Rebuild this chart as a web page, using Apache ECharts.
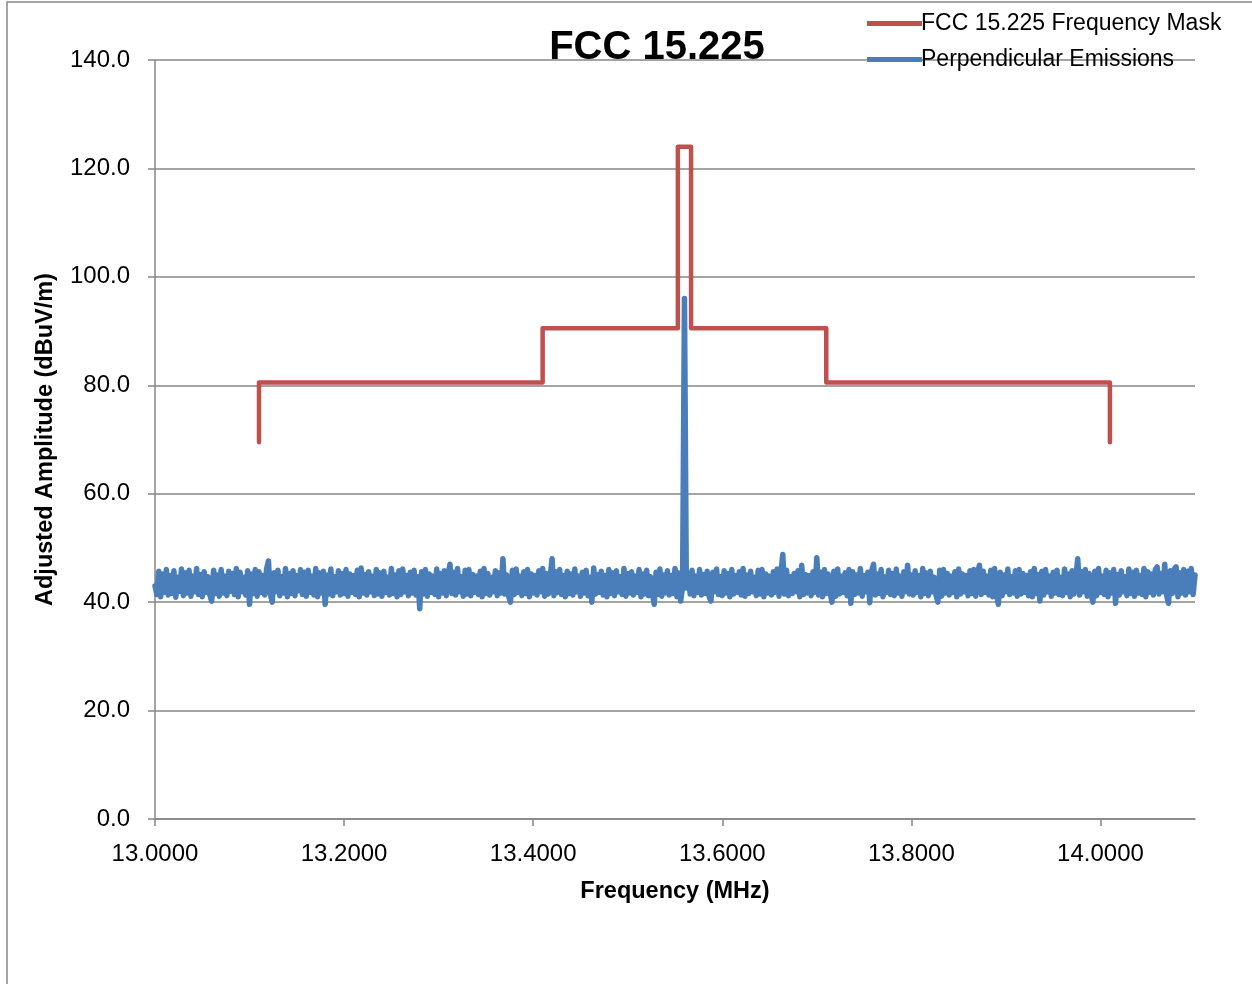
<!DOCTYPE html>
<html>
<head>
<meta charset="utf-8">
<script src="https://cdn.jsdelivr.net/npm/echarts@6/dist/echarts.min.js"></script>
<style>
  html, body { margin: 0; padding: 0; background: #fff; }
  #chart { width: 1252px; height: 984px; }
</style>
</head>
<body>
<div id="chart"></div>
<script>
// mask corner points (MHz, dBuV/m)
var maskFreq = [13.11, 13.11, 13.41, 13.41, 13.553, 13.553, 13.567, 13.567, 13.71, 13.71, 14.01, 14.01]
var maskLevel = [69.5, 80.5, 80.5, 90.5, 90.5, 124, 124, 90.5, 90.5, 80.5, 80.5, 69.5]

// sweep: start 13.000 MHz, 0.002 MHz per point
var sweepStart = 13.0
var sweepStep = 0.002
var emissions = [
  43.0, 41.4, 45.7, 41.0, 45.2, 41.8, 46.0, 41.3, 44.9, 41.6,
  45.8, 40.9, 44.6, 42.0, 46.1, 41.2, 45.4, 41.7, 45.9, 41.1,
  44.8, 41.9, 46.2, 41.4, 45.1, 41.0, 45.6, 41.8, 44.7, 41.3,
  40.2, 45.9, 41.6, 45.0, 41.1, 46.0, 41.7, 44.8, 41.2, 45.7,
  42.0, 45.3, 41.4, 46.2, 41.0, 45.5, 41.9, 44.6, 41.3, 45.8,
  39.6, 45.2, 41.6, 46.0, 41.1, 45.6, 41.8, 44.9, 41.3, 46.1,
  47.6, 41.5, 40.0, 45.4, 41.9, 45.9, 41.2, 44.7, 41.7, 46.2,
  41.0, 45.3, 41.6, 45.8, 41.2, 44.9, 42.1, 46.0, 41.4, 45.5,
  41.1, 45.9, 41.8, 44.8, 41.3, 46.2, 41.0, 45.4, 41.7, 45.7,
  39.6, 45.0, 41.5, 46.1, 41.2, 44.7, 41.9, 45.8, 41.3, 45.3,
  41.6, 46.0, 41.1, 45.2, 41.8, 44.9, 41.4, 45.9, 41.0, 46.3,
  41.7, 45.1, 41.3, 45.6, 41.9, 44.8, 41.2, 46.0, 41.5, 45.4,
  41.1, 45.7, 41.8, 44.6, 41.3, 46.2, 41.6, 45.0, 41.0, 45.8,
  41.4, 46.1, 41.9, 44.9, 41.2, 45.5, 41.7, 45.9, 41.3, 44.7,
  38.8, 45.6, 41.5, 46.0, 41.1, 45.2, 41.8, 44.8, 41.4, 46.1,
  41.0, 45.3, 41.7, 45.8, 41.2, 44.9, 47.0, 41.6, 45.5, 41.3,
  46.2, 41.9, 44.7, 41.1, 45.9, 41.5, 46.0, 41.2, 45.1, 41.8,
  44.8, 41.4, 45.7, 41.0, 46.2, 41.6, 45.3, 41.3, 44.6, 41.9,
  45.8, 41.2, 45.4, 41.7, 48.0, 41.5, 45.0, 41.1, 40.0, 45.9,
  41.4, 46.1, 41.8, 44.8, 41.2, 45.6, 41.6, 46.0, 41.0, 45.2,
  41.7, 44.9, 41.3, 45.8, 41.9, 46.2, 41.1, 45.3, 41.5, 44.7,
  48.0, 41.2, 45.6, 41.8, 46.0, 41.4, 44.9, 41.0, 45.7, 41.6,
  45.2, 41.3, 46.1, 41.9, 44.8, 41.1, 45.5, 41.7, 45.9, 41.2,
  44.6, 40.0, 46.3, 41.5, 45.1, 41.8, 45.7, 41.3, 44.9, 41.0,
  46.0, 41.6, 45.4, 41.2, 45.8, 41.9, 44.7, 41.4, 46.2, 41.1,
  45.3, 41.7, 45.6, 41.3, 44.8, 41.8, 46.0, 41.0, 45.2, 41.5,
  45.9, 41.2, 44.7, 41.9, 39.6, 45.5, 41.4, 46.1, 41.1, 45.0,
  41.7, 45.8, 41.3, 44.9, 41.6, 46.2, 41.0, 45.4, 40.2, 42.8,
  96.0, 42.6, 45.3, 41.5, 45.9, 41.2, 44.8, 41.8, 46.0, 41.3,
  45.1, 41.6, 45.7, 41.1, 40.2, 45.5, 41.9, 46.1, 41.4, 44.7,
  41.2, 45.8, 41.7, 45.3, 41.0, 46.0, 41.5, 44.9, 41.8, 45.6,
  41.3, 46.2, 41.1, 45.0, 41.6, 45.7, 41.9, 44.6, 41.2, 45.9,
  41.5, 46.0, 41.0, 45.2, 41.7, 44.8, 41.3, 45.6, 41.8, 46.1,
  41.1, 45.4, 48.8, 41.5, 45.9, 41.2, 44.7, 41.6, 45.3, 41.9,
  45.8, 41.0, 46.8, 41.4, 45.1, 41.7, 44.9, 41.2, 45.6, 41.8,
  48.2, 41.3, 45.5, 41.0, 46.0, 41.6, 45.2, 41.9, 40.0, 45.7,
  41.1, 46.1, 41.5, 44.8, 41.8, 45.4, 41.2, 46.0, 39.8, 45.6,
  41.4, 45.0, 41.7, 46.2, 41.1, 44.9, 41.9, 45.5, 39.9, 45.8,
  47.0, 41.3, 45.2, 41.6, 46.0, 41.0, 44.7, 41.8, 45.9, 41.4,
  45.3, 41.2, 46.1, 41.7, 44.8, 41.1, 45.6, 41.9, 46.8, 41.5,
  45.0, 41.3, 45.8, 41.8, 44.9, 41.0, 46.2, 41.6, 45.4, 41.2,
  45.7, 41.9, 44.6, 41.4, 40.0, 45.9, 41.1, 46.0, 41.7, 45.3,
  41.3, 44.8, 41.8, 45.6, 41.0, 46.1, 41.5, 45.2, 41.9, 44.9,
  41.2, 45.8, 41.6, 46.0, 41.1, 45.4, 46.8, 41.4, 45.7, 41.8,
  44.8, 41.3, 45.9, 41.0, 46.2, 41.6, 39.6, 45.5, 41.2, 45.0,
  41.9, 46.1, 41.4, 44.7, 41.7, 45.8, 41.1, 46.0, 41.5, 45.3,
  41.8, 44.9, 41.2, 45.6, 41.0, 46.2, 41.6, 45.1, 40.2, 45.7,
  41.3, 46.0, 41.9, 44.8, 41.1, 45.5, 41.7, 45.9, 41.4, 44.6,
  41.2, 46.1, 41.8, 45.2, 41.0, 45.8, 41.5, 44.9, 48.0, 41.3,
  45.6, 41.9, 46.0, 41.1, 45.3, 41.6, 40.0, 45.7, 41.2, 46.2,
  41.8, 44.8, 41.4, 45.9, 41.0, 45.4, 41.7, 46.0, 39.8, 45.1,
  41.3, 45.8, 41.9, 44.7, 41.2, 46.1, 41.6, 45.5, 41.1, 45.9,
  41.7, 44.9, 41.4, 46.2, 41.0, 45.6, 41.8, 45.2, 41.3, 46.0,
  46.5, 41.5, 45.3, 41.9, 47.0, 41.2, 39.8, 45.8, 41.6, 46.1,
  46.5, 41.0, 45.4, 41.7, 46.0, 41.3, 45.7, 41.9, 46.2, 41.4,
  45.0
]

var xTicks = [13.0, 13.2, 13.4, 13.6, 13.8, 14.0]

var font = 'Liberation Sans'
var myChart = echarts.init(document.getElementById('chart'))

var maskData = []
for (var i = 0; i < maskFreq.length; i++) {
  maskData.push([maskFreq[i], maskLevel[i]])
}
var emData = []
for (var j = 0; j < emissions.length; j++) {
  emData.push([+(sweepStart + j * sweepStep).toFixed(4), emissions[j]])
}

var option = {
  animation: false,
  backgroundColor: '#fff',
  title: {
    text: 'FCC 15.225',
    left: 652,
    textAlign: 'center',
    top: 23,
    textStyle: { fontFamily: font, fontSize: 40, fontWeight: 'bold', color: '#000' }
  },
  legend: {
    orient: 'vertical',
    left: 862,
    top: 7,
    itemGap: 13,
    itemWidth: 55,
    itemHeight: 5,
    icon: 'rect',
    textStyle: { fontFamily: font, fontSize: 23, color: '#000', padding: [0, 0, 0, -6] },
    data: ['FCC 15.225 Frequency Mask', 'Perpendicular Emissions']
  },
  grid: { left: 155, right: 57, top: 60, bottom: 165 },
  xAxis: {
    type: 'value',
    min: 13.0,
    max: 14.1,
    interval: 0.2,
    name: 'Frequency (MHz)',
    nameLocation: 'middle',
    nameGap: 61,
    nameTextStyle: { fontFamily: font, fontSize: 23.5, fontWeight: 'bold', color: '#000' },
    axisLine: { lineStyle: { color: '#868686', width: 1.5 } },
    axisTick: { show: true, length: 7, lineStyle: { color: '#868686', width: 1.5 }, customValues: xTicks },
    axisLabel: {
      fontFamily: font, fontSize: 24, color: '#000', margin: 23,
      customValues: xTicks,
      formatter: function (v) { return v.toFixed(4) }
    },
    splitLine: { show: false }
  },
  yAxis: {
    type: 'value',
    min: 0,
    max: 140,
    interval: 20,
    name: 'Adjusted Amplitude (dBuV/m)',
    nameLocation: 'middle',
    nameGap: 97,
    nameTextStyle: { fontFamily: font, fontSize: 23.5, fontWeight: 'bold', color: '#000' },
    axisLine: { show: true, lineStyle: { color: '#868686', width: 1.5 } },
    axisTick: { show: true, length: 7, lineStyle: { color: '#868686', width: 1.5 } },
    axisLabel: {
      fontFamily: font, fontSize: 24, color: '#000', margin: 25,
      formatter: function (v) { return v.toFixed(1) }
    },
    splitLine: { lineStyle: { color: '#868686', width: 1.5 } }
  },
  graphic: [{
    type: 'polyline',
    shape: { points: [[7, 990], [7, 2], [1260, 2]] },
    style: { stroke: '#868686', lineWidth: 1.5, fill: null },
    silent: true
  }],
  series: [
    {
      name: 'FCC 15.225 Frequency Mask',
      type: 'line',
      symbol: 'none',
      color: '#C0504D',
      lineStyle: { width: 4.5, color: '#C0504D', cap: 'round', join: 'round' },
      data: maskData
    },
    {
      name: 'Perpendicular Emissions',
      type: 'line',
      symbol: 'none',
      color: '#4A7EBB',
      lineStyle: { width: 5.5, color: '#4A7EBB', cap: 'round', join: 'round' },
      data: emData
    }
  ]
}
myChart.setOption(option)
</script>
</body>
</html>
